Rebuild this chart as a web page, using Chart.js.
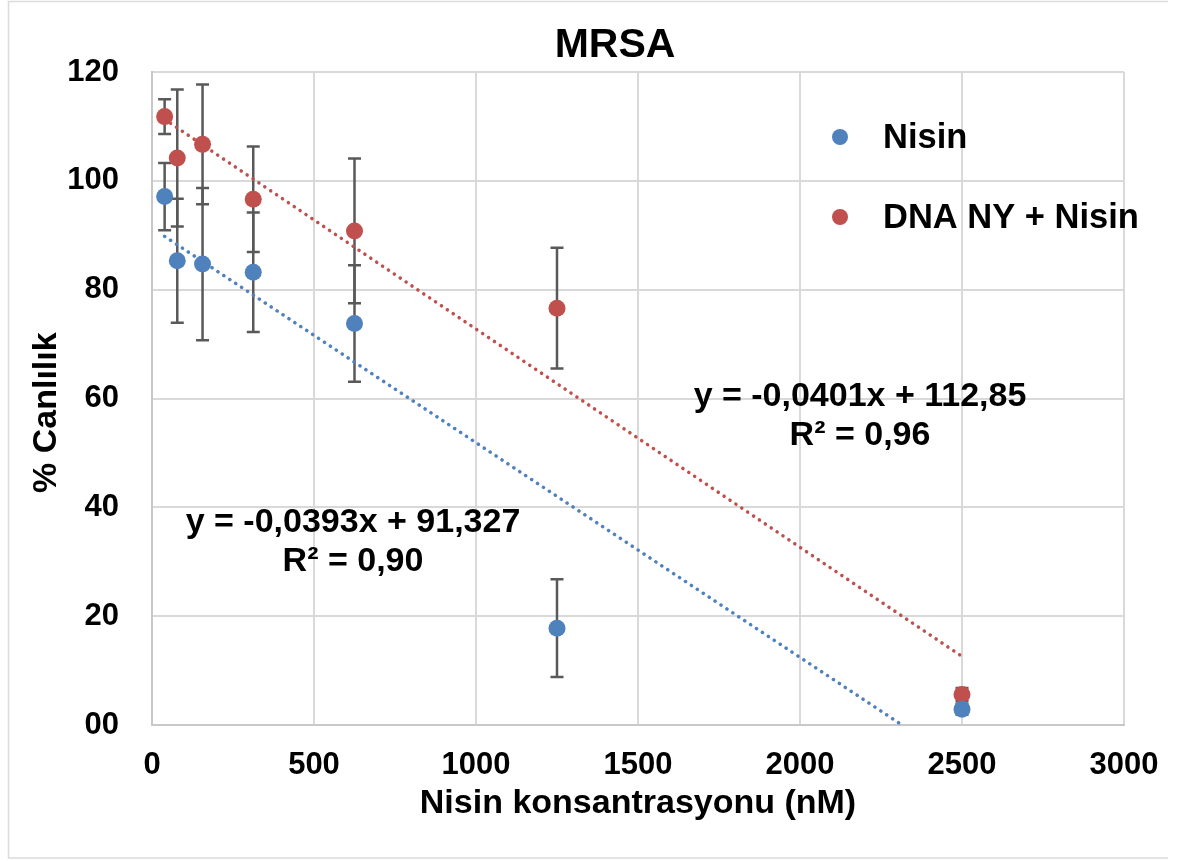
<!DOCTYPE html>
<html>
<head>
<meta charset="utf-8">
<script src="https://cdn.jsdelivr.net/npm/chart.js@4"></script>
<style>
  body { margin: 0; background: #fff; }
  #wrap { width: 1178px; height: 861px; }
</style>
</head>
<body>
<div id="wrap"><canvas id="chartMrsa" width="1178" height="861"></canvas></div>
<script>
// concentrations (nM)
const concentrations = [39, 78, 156, 312.5, 625, 1250, 2500];

// % viability, Nisin alone
const nisinValues = [97.1, 85.3, 84.7, 83.2, 73.8, 17.8, 2.9];
const nisinErrors = [6.2, 11.4, 14.0, 11.0, 10.7, 9.0, 1.0];

// % viability, DNA NY + Nisin
const comboValues = [111.8, 104.2, 106.7, 96.6, 90.8, 76.6, 5.6];
const comboErrors = [3.2, 12.6, 11.0, 9.7, 13.3, 11.1, 1.2];

// trendline end points as drawn in the picture
const nisinTrendX = [39, 2315];
const nisinTrendY = [89.8, 0];
const comboTrendX = [39, 2500];
const comboTrendY = [111.3, 12.6];

const seriesNames = ['Nisin', 'DNA NY + Nisin'];
const equations = [
  ['y = -0,0393x + 91,327', 'R² = 0,90'],
  ['y = -0,0401x + 112,85', 'R² = 0,96']
];
const xTickLabels = ['0', '500', '1000', '1500', '2000', '2500', '3000'];
const yTickLabels = ['00', '20', '40', '60', '80', '100', '120'];

const BLUE = '#4f81bd';
const RED = '#c0504d';
const FONT = '"Liberation Sans", Arial, Helvetica, sans-serif';

function toPoints(xs, ys) {
  return xs.map((x, i) => ({ x: x, y: ys[i] }));
}

// background, outer frame, title, legend and equations
const decorPlugin = {
  id: 'decor',
  beforeDraw(chart) {
    const ctx = chart.ctx;
    ctx.save();
    ctx.fillStyle = '#fff';
    ctx.fillRect(0, 0, chart.width, chart.height);
    ctx.strokeStyle = '#dcdcdc';
    ctx.lineWidth = 1.5;
    ctx.beginPath();
    ctx.moveTo(1168, 1.5);
    ctx.lineTo(8.5, 1.5);
    ctx.lineTo(8.5, 858);
    ctx.lineTo(1168, 858);
    ctx.stroke();
    ctx.restore();
  },
  afterDraw(chart) {
    const ctx = chart.ctx;
    ctx.save();
    ctx.fillStyle = '#000';
    ctx.textBaseline = 'middle';

    // title
    ctx.textAlign = 'center';
    ctx.font = 'bold 41px ' + FONT;
    ctx.fillText('MRSA', 615, 46);

    // legend
    const legendColors = [BLUE, RED];
    const legendY = [137, 217];
    ctx.font = 'bold 34.5px ' + FONT;
    ctx.textAlign = 'left';
    seriesNames.forEach((name, i) => {
      ctx.fillStyle = legendColors[i];
      ctx.beginPath();
      ctx.arc(840, legendY[i], 8, 0, Math.PI * 2);
      ctx.fill();
      ctx.fillStyle = '#000';
      ctx.fillText(name, 883, legendY[i] + 1);
    });

    // trendline equations
    ctx.textAlign = 'center';
    ctx.font = 'bold 34px ' + FONT;
    ctx.fillText(equations[0][0], 353, 523);
    ctx.fillText(equations[0][1], 353, 562);
    ctx.fillText(equations[1][0], 860, 397);
    ctx.fillText(equations[1][1], 860, 436);
    ctx.restore();
  }
};

// vertical error bars, drawn under the markers
const errorBarPlugin = {
  id: 'errorBars',
  beforeDatasetsDraw(chart) {
    const ctx = chart.ctx;
    const xs = chart.scales.x;
    const ys = chart.scales.y;
    const area = chart.chartArea;
    const sets = [[comboValues, comboErrors], [nisinValues, nisinErrors]];
    ctx.save();
    ctx.beginPath();
    ctx.rect(area.left, area.top - 2, area.right - area.left, area.bottom - area.top + 4);
    ctx.clip();
    ctx.strokeStyle = '#595959';
    ctx.lineWidth = 2.5;
    sets.forEach(([vals, errs]) => {
      vals.forEach((v, i) => {
        const px = xs.getPixelForValue(concentrations[i]);
        const top = ys.getPixelForValue(v + errs[i]);
        const bot = ys.getPixelForValue(v - errs[i]);
        ctx.beginPath();
        ctx.moveTo(px, top);
        ctx.lineTo(px, bot);
        ctx.moveTo(px - 6.5, top);
        ctx.lineTo(px + 6.5, top);
        ctx.moveTo(px - 6.5, bot);
        ctx.lineTo(px + 6.5, bot);
        ctx.stroke();
      });
    });
    ctx.restore();
  }
};

const ctx = document.getElementById('chartMrsa');
new Chart(ctx, {
  type: 'scatter',
  data: {
    datasets: [
      {
        label: seriesNames[0],
        data: toPoints(concentrations, nisinValues),
        backgroundColor: BLUE,
        borderColor: BLUE,
        pointRadius: 8.5,
        pointBorderWidth: 0
      },
      {
        label: seriesNames[1],
        data: toPoints(concentrations, comboValues),
        backgroundColor: RED,
        borderColor: RED,
        pointRadius: 8.5,
        pointBorderWidth: 0
      },
      {
        label: 'Nisin trend',
        data: toPoints(nisinTrendX, nisinTrendY),
        showLine: true,
        borderColor: BLUE,
        borderWidth: 3.5,
        borderDash: [0.1, 7],
        borderCapStyle: 'round',
        pointRadius: 0
      },
      {
        label: 'DNA NY + Nisin trend',
        data: toPoints(comboTrendX, comboTrendY),
        showLine: true,
        borderColor: RED,
        borderWidth: 3.5,
        borderDash: [0.1, 7],
        borderCapStyle: 'round',
        pointRadius: 0
      }
    ]
  },
  options: {
    responsive: false,
    animation: false,
    layout: { padding: { top: 72, right: 54, bottom: 0, left: 0 } },
    plugins: {
      legend: { display: false },
      title: { display: false },
      tooltip: { enabled: false }
    },
    scales: {
      x: {
        type: 'linear',
        min: 0,
        max: 3000,
        afterFit: scale => {
          scale.height = 136;
          // the tick padding should not push the plot's right edge inwards
          scale.paddingRight = 0;
          scale.paddingLeft = 0;
        },
        afterBuildTicks: scale => {
          scale.ticks = xTickLabels.map(t => ({ value: Number(t) }));
        },
        ticks: {
          stepSize: 500,
          padding: 22,
          color: '#000',
          font: { family: FONT, size: 31, weight: 'bold' },
          callback: (v, i) => xTickLabels[i]
        },
        grid: { color: '#d9d9d9', lineWidth: 2, drawTicks: false },
        border: { color: '#c8c8c8', width: 2 },
        title: {
          display: true,
          text: 'Nisin konsantrasyonu (nM)',
          color: '#000',
          font: { family: FONT, size: 34, weight: 'bold' },
          padding: { top: 0, bottom: 37 }
        }
      },
      y: {
        min: 0,
        max: 120,
        afterFit: scale => { scale.width = 152; },
        afterBuildTicks: scale => {
          scale.ticks = yTickLabels.map((t, i) => ({ value: i * 20 }));
        },
        ticks: {
          stepSize: 20,
          padding: 33,
          color: '#000',
          font: { family: FONT, size: 31, weight: 'bold' },
          callback: (v, i) => yTickLabels[i]
        },
        grid: { color: '#d9d9d9', lineWidth: 2, drawTicks: false },
        border: { color: '#c8c8c8', width: 2 },
        title: {
          display: true,
          // trailing no-break spaces push the rotated label a little lower, as in the picture
          text: '% Canlılık\u00a0\u00a0\u00a0',
          color: '#000',
          font: { family: FONT, size: 34, weight: 'bold' },
          padding: { top: 26, bottom: 0 }
        }
      }
    }
  },
  plugins: [decorPlugin, errorBarPlugin]
});
</script>
</body>
</html>
